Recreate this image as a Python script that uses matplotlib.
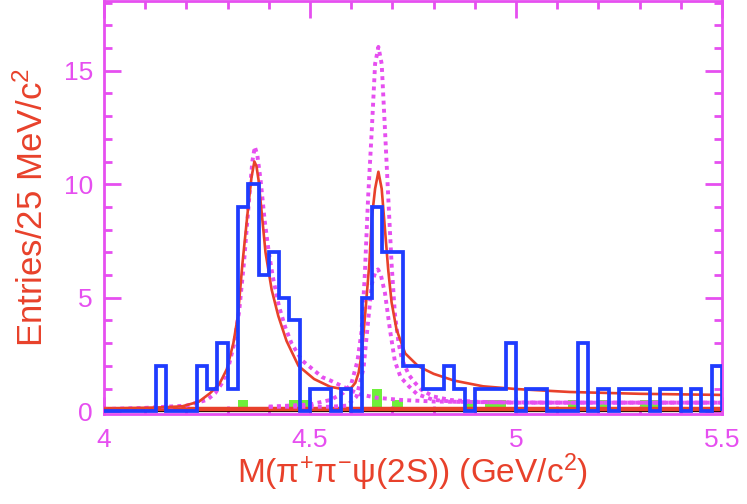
import numpy as np
import matplotlib
import matplotlib.pyplot as plt
from matplotlib import font_manager
from matplotlib.ticker import MultipleLocator, FuncFormatter

# Render without a display
matplotlib.use('Agg')

plt.rcParams['font.family'] = ['Liberation Sans', 'DejaVu Sans']
plt.rcParams['mathtext.fontset'] = 'custom'
plt.rcParams['mathtext.rm'] = 'Liberation Sans'
plt.rcParams['mathtext.it'] = 'Liberation Sans:italic'

# condensed face for the mass label, if present
installed = {f.name for f in font_manager.fontManager.ttflist}
if 'Liberation Sans Narrow' in installed:
    xlabel_family, xlabel_size = ['Liberation Sans Narrow', 'DejaVu Sans'], 30
else:
    xlabel_family, xlabel_size = ['Liberation Sans', 'DejaVu Sans'], 24

MAGENTA = '#e64ff0'
RED = '#e8412b'
BLUE = '#1f3cff'
GREEN = '#6ef03a'

# 25 MeV bins from 4.0 to 5.5 GeV
bin_edges = 4.0 + 0.025 * np.arange(61)

# Entries per bin (data)
counts = [0, 0, 0, 0, 0, 2, 0, 0, 0, 2,
          1, 3, 1, 9, 10, 6, 7, 5, 4, 0,
          1, 1, 0, 1, 0, 5, 9, 7, 7, 2,
          2, 1, 1, 2, 1, 0, 1, 1, 1, 3,
          0, 1, 1, 0, 0, 0, 3, 0, 1, 0,
          1, 1, 1, 0, 1, 1, 0, 1, 0, 2]

# Sideband background (bin index -> entries)
sideband_bins = [13, 18, 19, 26, 28, 35, 37, 38, 45, 48, 52, 53]
sideband_vals = [0.5, 0.5, 0.5, 1.0, 0.5, 0.5, 0.5, 0.5, 0.5, 0.5, 0.5, 0.5]

# Total fit curve
fit_m = [4.00, 4.10, 4.15, 4.19, 4.23, 4.257, 4.28, 4.298, 4.314, 4.325,
         4.336, 4.350, 4.358, 4.365, 4.370, 4.375, 4.383, 4.392, 4.407, 4.423,
         4.443, 4.472, 4.510, 4.549, 4.575, 4.590, 4.601, 4.610, 4.618, 4.626,
         4.634, 4.644, 4.650, 4.658, 4.666, 4.674, 4.682, 4.690, 4.698, 4.710,
         4.731, 4.763, 4.800, 4.850, 4.920, 5.000, 5.130, 5.300, 5.500]
fit_v = [0.12, 0.15, 0.18, 0.22, 0.42, 0.79, 1.20, 1.85, 3.00, 4.20,
         6.50, 9.00, 10.30, 11.00, 10.80, 10.20, 8.70, 7.00, 5.35, 4.20,
         3.10, 2.00, 1.42, 1.08, 0.99, 0.97, 1.05, 1.25, 1.70, 2.60,
         4.30, 6.50, 8.50, 9.80, 10.55, 9.80, 8.00, 6.20, 4.80, 3.60,
         2.55, 1.98, 1.65, 1.35, 1.10, 0.98, 0.85, 0.77, 0.72]

# Y(4360) component
y4360_m = [4.00, 4.10, 4.20, 4.25, 4.27, 4.285, 4.300, 4.315, 4.328, 4.340,
           4.352, 4.360, 4.366, 4.372, 4.380, 4.390, 4.400, 4.410, 4.425, 4.440,
           4.455, 4.480, 4.510, 4.530, 4.550, 4.590, 4.620, 4.660, 4.720, 4.800,
           4.920, 5.100, 5.500]
y4360_v = [0.10, 0.15, 0.25, 0.50, 0.80, 1.20, 1.80, 2.90, 4.40, 6.60,
           9.30, 11.00, 11.65, 11.30, 10.20, 8.40, 7.00, 5.90, 4.60, 3.70,
           3.00, 2.25, 1.80, 1.50, 1.35, 1.00, 0.75, 0.60, 0.50, 0.43,
           0.40, 0.38, 0.38]

# Y(4660) component, solution I
y4660a_m = [4.40, 4.50, 4.55, 4.58, 4.600, 4.615, 4.625, 4.633, 4.641, 4.650,
            4.658, 4.666, 4.674, 4.682, 4.690, 4.698, 4.706, 4.715, 4.723, 4.740,
            4.755, 4.770, 4.800, 4.840, 4.900, 5.000, 5.500]
y4660a_v = [0.20, 0.30, 0.50, 0.80, 1.20, 2.20, 3.50, 6.00, 9.40, 12.40,
            15.30, 16.05, 15.30, 12.40, 9.40, 6.50, 4.30, 3.00, 2.30, 1.60,
            1.25, 0.95, 0.65, 0.50, 0.42, 0.38, 0.38]

# Y(4660) component, solution II
y4660b_m = [4.40, 4.55, 4.590, 4.613, 4.630, 4.638, 4.650, 4.658, 4.665, 4.672,
            4.682, 4.694, 4.706, 4.720, 4.740, 4.760, 4.800, 4.850, 5.000, 5.500]
y4660b_v = [0.20, 0.20, 0.25, 0.65, 1.90, 3.40, 5.60, 6.10, 6.25, 6.00,
            5.20, 3.60, 2.20, 1.50, 1.10, 0.75, 0.50, 0.42, 0.38, 0.38]

fig = plt.figure(figsize=(7.47, 5.04), dpi=100)
ax = fig.add_axes([104 / 747, 90 / 504, 618 / 747, 413 / 504])

# sideband histogram (filled)
sb = np.zeros(len(counts))
sb[sideband_bins] = sideband_vals
ax.stairs(sb, bin_edges, fill=True, color=GREEN, zorder=1)

# zero line and background level
ax.axhline(0, color='black', lw=1.6, zorder=2)
ax.axhline(0.09, color=RED, lw=3.2, zorder=3)

# fit curves
dot = (0, (1.0, 1.1))
ax.plot(y4360_m, y4360_v, color=MAGENTA, lw=2.8, ls=dot, zorder=4)
ax.plot(y4660a_m, y4660a_v, color=MAGENTA, lw=2.8, ls=dot, zorder=4)
ax.plot(y4660b_m, y4660b_v, color=MAGENTA, lw=2.8, ls=dot, zorder=4)
ax.plot(fit_m, fit_v, color=RED, lw=1.9, zorder=5)

# data histogram
ax.stairs(counts, bin_edges, color=BLUE, lw=2.7, zorder=6)

ax.set_xlim(4.0, 5.5)
ax.set_ylim(-0.12, 18.07)

ax.xaxis.set_major_locator(MultipleLocator(0.5))
ax.xaxis.set_minor_locator(MultipleLocator(0.1))
ax.yaxis.set_major_locator(MultipleLocator(5))
ax.yaxis.set_minor_locator(MultipleLocator(1))
ax.xaxis.set_major_formatter(FuncFormatter(lambda v, p: f'{v:g}'))

ax.tick_params(which='both', direction='in', top=True, right=True,
               color=MAGENTA, labelcolor=MAGENTA, labelsize=19, width=2)
ax.tick_params(which='major', length=12)
ax.tick_params(which='minor', length=6)
ax.tick_params(axis='x', pad=10)
ax.tick_params(axis='y', pad=8)

for side in ax.spines.values():
    side.set_color(MAGENTA)
    side.set_linewidth(2)

ax.set_xlabel(r'M(π$^{+}$π$^{-}$ψ(2S)) (GeV/c$^{2}$)', color=RED,
              fontsize=xlabel_size, family=xlabel_family, labelpad=0)
ax.set_ylabel(r'Entries/25 MeV/c$^{2}$', color=RED, fontsize=25)
ax.yaxis.set_label_coords(-0.088, 0.5)

fig.savefig('out.png', dpi=100)
plt.close(fig)
